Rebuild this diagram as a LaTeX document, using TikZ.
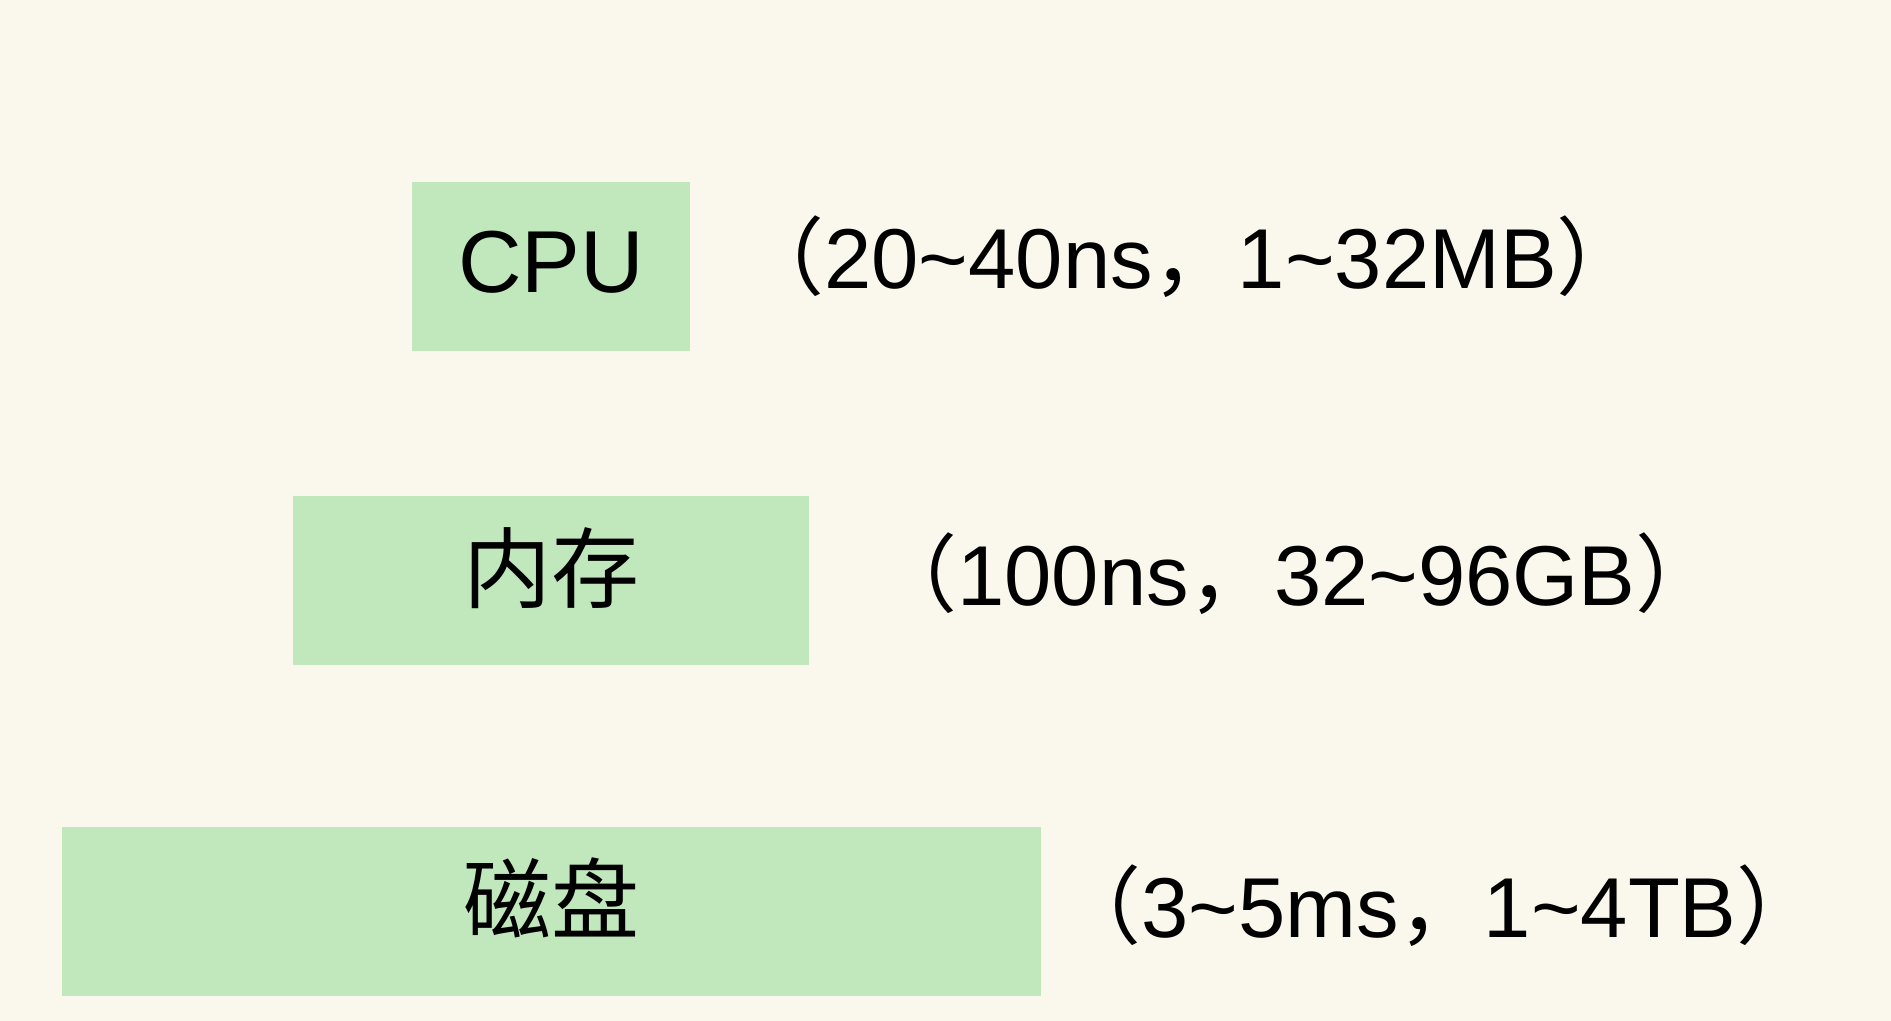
\documentclass[tikz,border=0pt]{standalone}
\usepackage{fontspec}
\setmainfont{Liberation Sans}
\newfontfamily\cjk{Noto Sans CJK SC}
\definecolor{bg}{RGB}{250,248,236}
\definecolor{boxgreen}{RGB}{193,232,188}
\newcommand{\tld}{\textasciitilde}
\begin{document}
\begin{tikzpicture}[x=0.5pt,y=-0.5pt,
  membox/.style={fill=boxgreen, draw=none, minimum height=84.5pt, inner sep=0pt, anchor=center},
  lbl/.style={font=\fontsize{44}{50}\selectfont, anchor=base, inner sep=0pt},
  ann/.style={font=\fontsize{42.5}{50}\selectfont, anchor=base west, inner sep=0pt}]
\fill[bg] (0,0) rectangle (1891,1021);
\useasboundingbox (0,0) rectangle (1891,1021);
% boxes
\node[membox, minimum width=139pt] (cpu) at (551,266.5) {};
\node[membox, minimum width=258pt] (mem) at (551,580.5) {};
\node[membox, minimum width=489.5pt] (disk) at (551.5,911.5) {};
% labels
\node[lbl] (cpulbl) at (551,293) {CPU};
\node[lbl] (memlbl) at (551,602) {\cjk 内存};
\node[lbl] (disklbl) at (551,932) {\cjk 磁盘};
% annotations
\node[ann] (cpuann) at (739,289) {{\cjk （}20\tld40ns{\cjk ，}1\tld32MB{\cjk ）}};
\node[ann] (memann) at (872,605) {{\cjk （}100ns{\cjk ，}32\tld96GB{\cjk ）}};
\node[ann] (diskann) at (1056,937) {{\cjk （}3\tld5ms{\cjk ，}1\tld4TB{\cjk ）}};
\end{tikzpicture}
\end{document}
